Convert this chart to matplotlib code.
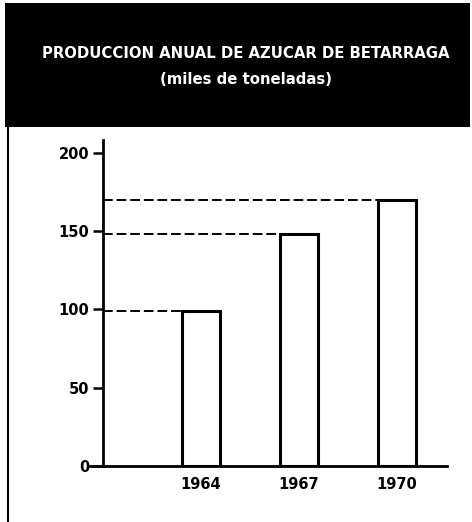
import matplotlib.pyplot as plt
from matplotlib.patches import Rectangle

years = ['1964', '1967', '1970']
produccion = [99, 148, 170]   # miles de toneladas
yticks = [0, 50, 100, 150, 200]

title = 'PRODUCCION ANUAL DE AZUCAR DE BETARRAGA'
subtitle = '(miles de toneladas)'

W, H = 472, 522
fig = plt.figure(figsize=(W / 100, H / 100), dpi=100)
fig.patch.set_facecolor('white')
plt.rcParams['font.family'] = 'DejaVu Sans'
plt.rcParams['font.weight'] = 'bold'

# black title band across the top
fig.add_artist(Rectangle((5 / W, 1 - 127 / H), 465 / W, 124 / H,
                         transform=fig.transFigure, facecolor='black',
                         edgecolor='none', zorder=0))
fig.text(246 / W, 1 - 54 / H, title, color='white', fontsize=10.7,
         fontweight='bold', ha='center', va='center')
fig.text(246 / W, 1 - 80 / H, subtitle, color='white', fontsize=10.7,
         fontweight='bold', ha='center', va='center')

# left frame line
fig.add_artist(plt.Line2D([8 / W, 8 / W], [0, 1 - 127 / H],
                          transform=fig.transFigure, color='black', lw=1.5))

# axes placed in pixel terms: x 103..447, y 140..466
ax = fig.add_axes([103 / W, 1 - 466 / H, 344 / W, 326 / H])
x = list(range(len(years)))
bar_w = 0.39
ax.bar(x, produccion, width=bar_w, color='white', edgecolor='black',
       linewidth=2.2, zorder=3)

# dashed guide lines from the axis to each bar top
for xi, v in zip(x, produccion):
    ax.plot([-1, xi - bar_w / 2], [v, v], color='black', lw=1.4,
            linestyle=(0, (5, 2)), zorder=2)

ax.set_xlim(-1, 2.51)
ax.set_ylim(0, 208)
ax.set_yticks(yticks)
ax.set_yticklabels([str(t) for t in yticks], fontsize=10.5, fontweight='bold')
ax.tick_params(axis='y', direction='out', length=7, width=1.8, pad=3)
ax.set_xticks(x)
ax.set_xticklabels(years, fontsize=10.5, fontweight='bold')
ax.tick_params(axis='x', length=0, pad=8)

for s in ['top', 'right']:
    ax.spines[s].set_visible(False)
ax.spines['left'].set_linewidth(2)
ax.spines['bottom'].set_linewidth(2)
ax.spines['bottom'].set_bounds(-1.13, 2.51)
ax.set_facecolor('none')

fig.savefig('out.png', dpi=100)
